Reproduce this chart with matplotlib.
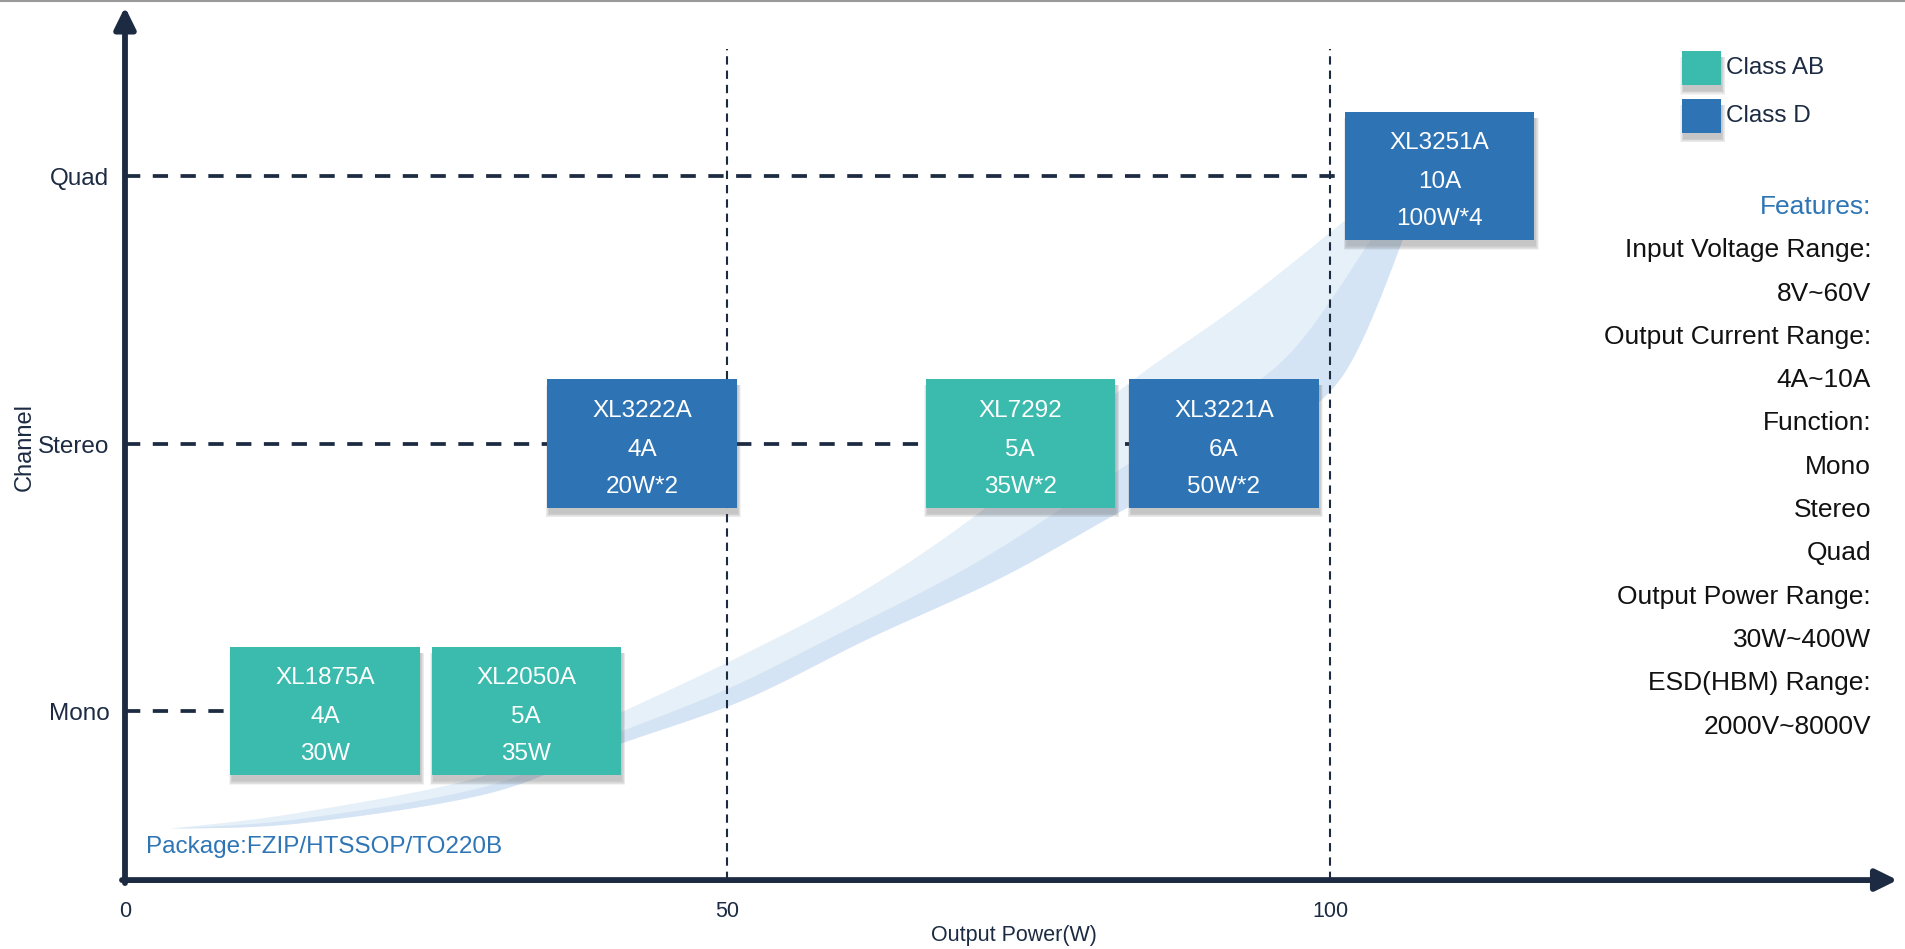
import numpy as np
import matplotlib.pyplot as plt
from matplotlib.patches import Rectangle, Polygon
from matplotlib.lines import Line2D

plt.rcParams['font.family'] = ['Liberation Sans', 'DejaVu Sans']
plt.rcParams['lines.scale_dashes'] = False


# ==========================
# DATA
# ==========================

channels = ["Mono", "Stereo", "Quad"]
channel_pos = [1, 2, 3]
channel_line_to = ["XL1875A", "XL3221A", "XL3251A"]   # dashed guide ends at this box
power_ticks = [0, 50, 100]
power_grid = [50, 100]

chips = ["XL1875A", "XL2050A", "XL3222A", "XL7292", "XL3221A", "XL3251A"]
chip_current = ["4A", "5A", "4A", "5A", "6A", "10A"]
chip_power = ["30W", "35W", "20W*2", "35W*2", "50W*2", "100W*4"]
chip_class = ["Class AB", "Class AB", "Class D", "Class AB", "Class D", "Class D"]
chip_channel = [1, 1, 2, 2, 2, 3]
chip_x = [16.6, 33.3, 42.9, 74.3, 91.2, 109.1]   # box centre on power axis

classes = ["Class AB", "Class D"]
class_colors = ["#3ABBAD", "#2E74B5"]

features = [
    "Features:",
    "Input Voltage Range:",
    "8V~60V",
    "Output Current Range:",
    "4A~10A",
    "Function:",
    "Mono",
    "Stereo",
    "Quad",
    "Output Power Range:",
    "30W~400W",
    "ESD(HBM) Range:",
    "2000V~8000V",
]

package_text = "Package:FZIP/HTSSOP/TO220B"

# decorative ribbon (power, channel)
swoosh_top_x = [3.7, 14.5, 30.0, 40.0, 51.3, 61.7, 72.0, 82.6, 92.5, 101.7]
swoosh_top_y = [0.56, 0.62, 0.76, 0.97, 1.21, 1.46, 1.78, 2.20, 2.52, 2.85]
swoosh_bot_x = [3.7, 14.5, 30.0, 40.0, 51.3, 61.7, 72.8, 83.2, 93.4, 101.0, 106.8]
swoosh_bot_y = [0.56, 0.58, 0.69, 0.86, 1.04, 1.27, 1.50, 1.76, 2.00, 2.25, 2.85]


# ==========================
# STYLE
# ==========================

navy = "#1C2B42"
blue_text = "#2E75B6"
box_w = 15.7
box_h = 0.482
PX = 1 / 12.05      # one pixel in power units
PY = 1 / 267.5      # one pixel in channel units

x_axis_y = 0.368
x_end = 147.1
y_end = 3.632


# ==========================
# FIGURE
# ==========================

fig = plt.figure(figsize=(19.05, 9.49), dpi=100)
ax = fig.add_axes([0, 0, 1, 1])
ax.set_xlim(-10.373, 147.72)
ax.set_ylim(0.1103, 3.658)
ax.axis("off")

fig.add_artist(Line2D([0, 1], [0.9985, 0.9985], transform=fig.transFigure,
                      color="#9A9A9A", lw=1.5))


# ==========================
# RIBBON
# ==========================

def smooth(xs, ys, n=40):
    # Catmull-Rom through the control points
    p = np.column_stack([xs, ys]).astype(float)
    p = np.vstack([p[0], p, p[-1]])
    out = []
    t = np.linspace(0, 1, n, endpoint=False)[:, None]
    for i in range(1, len(p) - 2):
        p0, p1, p2, p3 = p[i - 1], p[i], p[i + 1], p[i + 2]
        seg = 0.5 * ((2 * p1) + (-p0 + p2) * t
                     + (2 * p0 - 5 * p1 + 4 * p2 - p3) * t ** 2
                     + (-p0 + 3 * p1 - 3 * p2 + p3) * t ** 3)
        out.append(seg)
    out.append(p[-1][None, :])
    return np.vstack(out)


def resample(curve, n=400):
    xs = curve[:, 0]
    ys = curve[:, 1] / PY * PX
    d = np.r_[0, np.cumsum(np.hypot(np.diff(xs), np.diff(ys)))]
    t = np.linspace(0, d[-1], n)
    return np.column_stack([np.interp(t, d, curve[:, 0]),
                            np.interp(t, d, curve[:, 1])])


top = resample(smooth(swoosh_top_x, swoosh_top_y))
bot = resample(smooth(swoosh_bot_x, swoosh_bot_y))

ax.add_patch(Polygon(np.vstack([top, bot[::-1]]), closed=True,
                     fc="#E6F0F9", ec="none", zorder=1))

f = 0.42
mid = bot + f * (top - bot)
ax.add_patch(Polygon(np.vstack([mid, bot[::-1]]), closed=True,
                     fc="#D5E4F4", ec="none", zorder=1))


# ==========================
# GUIDE LINES
# ==========================

for g in power_grid:
    ax.plot([g, g], [x_axis_y, 3.475], color=navy, lw=1.5,
            dashes=(6, 4.3), zorder=2)

for c, target in zip(channel_pos, channel_line_to):
    end = chip_x[chips.index(target)] - box_w / 2
    ax.plot([0, end], [c, c], color=navy, lw=2.7,
            dashes=(11, 9), zorder=2)


# ==========================
# BOXES
# ==========================

def shadow(x0, y0, w, h, sx, sy, transform):
    for k in range(6):
        ax.add_patch(Rectangle((x0 + 1.5 * sx - k * sx * 0.6, y0 - 6 * sy - k * sy * 0.7),
                               w + k * sx * 1.2, h + k * sy * 0.7,
                               fc="#4A4A4A", ec="none", alpha=0.06,
                               transform=transform, zorder=3))


for i, name in enumerate(chips):
    cx = chip_x[i]
    cy = chip_channel[i]
    col = class_colors[classes.index(chip_class[i])]
    x0 = cx - box_w / 2
    y0 = cy - box_h / 2
    shadow(x0, y0, box_w, box_h, PX, PY, ax.transData)
    ax.add_patch(Rectangle((x0, y0), box_w, box_h, fc=col, ec="none", zorder=4))
    lines = [name, chip_current[i], chip_power[i]]
    offs = [0.1006, -0.0452, -0.1847]
    for txt, o in zip(lines, offs):
        ax.text(cx, cy + o, txt, ha="center", va="baseline", fontsize=17.5,
                color="white", zorder=5)


# ==========================
# AXES
# ==========================

ax.annotate("", xy=(0, y_end), xytext=(0, x_axis_y - 3 * PY),
            arrowprops=dict(arrowstyle="-|>,head_length=0.65,head_width=0.32",
                            lw=4.2, color=navy, shrinkA=0, shrinkB=0,
                            mutation_scale=20), zorder=6)
ax.annotate("", xy=(x_end, x_axis_y), xytext=(-3 * PX, x_axis_y),
            arrowprops=dict(arrowstyle="-|>,head_length=0.65,head_width=0.32",
                            lw=4.2, color=navy, shrinkA=0, shrinkB=0,
                            mutation_scale=20), zorder=6)

for name, pos in zip(channels, channel_pos):
    ax.text(-1.3, pos - 0.012, name, ha="right", va="center", fontsize=17.5, color=navy)

for p in power_ticks:
    ax.text(p, 0.252, str(p), ha="center", va="center", fontsize=15.5, color=navy)

ax.text(0.532, 0.0137, "Output Power(W)", transform=ax.transAxes,
        ha="center", va="center", fontsize=15.5, color=navy)
ax.text(0.0131, 0.529, "Channel", transform=ax.transAxes, rotation=90,
        ha="center", va="center", fontsize=17, color=navy)

ax.text(0.0766, 0.1075, package_text, transform=ax.transAxes,
        ha="left", va="center", fontsize=17.5, color=blue_text)


# ==========================
# LEGEND
# ==========================

FX = 1 / 1905
FY = 1 / 949
leg_y = [0.9104, 0.8599]
for cls, col, ly in zip(classes, class_colors, leg_y):
    shadow(0.8829, ly, 0.0204, 0.0358, FX, FY, ax.transAxes)
    ax.add_patch(Rectangle((0.8829, ly), 0.0204, 0.0358, fc=col, ec="none",
                           transform=ax.transAxes, zorder=4))
    ax.text(0.906, ly + 0.0179, cls, transform=ax.transAxes, ha="left",
            va="center", fontsize=17.5, color=navy)


# ==========================
# FEATURES
# ==========================

for k, line in enumerate(features):
    yy = 1 - (207 + 43.3 * k) / 949
    ax.text(0.9822, yy, line, transform=ax.transAxes, ha="right", va="center",
            fontsize=19, color=blue_text if k == 0 else "#111111")

fig.savefig("out.png", dpi=100)
